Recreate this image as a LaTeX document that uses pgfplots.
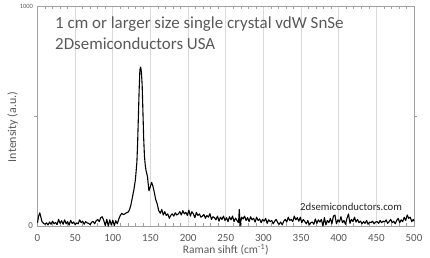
\documentclass[border=0pt]{standalone}
\usepackage{pgfplots}
\pgfplotsset{compat=1.18}
\usepackage{fontspec}
\setmainfont{Carlito}
\definecolor{txtgray}{HTML}{595959}
\definecolor{boxgray}{HTML}{A0A0A0}
\definecolor{gridgray}{HTML}{D9D9D9}
\begin{document}
\begin{tikzpicture}
\path[use as bounding box] (0,0) rectangle (430bp,258bp);
\begin{axis}[
  at={(37.5bp,32bp)}, anchor=south west,
  width=376.5bp, height=220bp, scale only axis,
  xmin=0, xmax=500, ymin=0, ymax=1000,
  xtick={0,50,...,500},
  minor x tick num=4,
  xmajorgrids, major grid style={gridgray, line width=0.8pt},
  ytick={0,1000},
  yticklabels={{\fontsize{9}{9}\selectfont 0},{\fontsize{6.5}{6.5}\selectfont 1000}},
  extra y ticks={500}, extra y tick labels={},
  extra y tick style={tick align=outside, major tick length=3bp},
  axis line style={boxgray, line width=0.8pt},
  tick style={boxgray, line width=0.6pt},
  tick align=inside,
  major tick length=0pt, minor tick length=3bp,
  /pgf/number format/assume math mode=true,
  /pgf/number format/1000 sep={},
  tick label style={txtgray},
  xticklabel style={font=\fontsize{11}{11}\selectfont, yshift=-5bp},
  yticklabel style={xshift=-1bp},
  xlabel={Raman sihft (cm\textsuperscript{-1})},
  ylabel={Intensity (a.u.)},
  xlabel style={font=\fontsize{11.5}{11.5}\selectfont, txtgray, at={(axis description cs:0.5,-0.107)}, anchor=center},
  ylabel style={font=\fontsize{12}{12}\selectfont, txtgray, at={(axis description cs:-0.066,0.45)}, anchor=center},
  clip=false,
]
\addplot[black, line width=1.1pt, line join=round] coordinates {
(0,15)(1.5,45)(3,60)(4.5,40)(6,20)(8,12)(10,8)(12,14)(14,5)(16,18)(18,8)(20,22)(22,10)(24,16)(26,6)(28,30)(30,12)(32,24)(34,8)(36,28)(38,10)(40,20)(42,4)(44,26)(46,12)(48,18)(50,6)(52,14)(54,10)(56,28)(58,15)(60,22)(62,8)(64,20)(66,14)(68,12)(70,6)(72,18)(74,20)(76,10)(78,24)(80,30)(82,20)(84,38)(86,42)(88,25)(90,2)(92,30)(94,0)(96,28)(98,4)(100,26)(102,2)(104,24)(106,10)(108,32)(110,48)(112,58)(114,52)(116,55)(118,60)(120,62)(122,72)(124,95)(126,130)(128,165)(130,210)(132,290)(133,380)(134,500)(135,620)(136,710)(137,722)(138,700)(139,640)(140,520)(141,400)(142,320)(143,280)(144,255)(146,225)(148,160)(150,180)(151.5,198)(153,185)(155,155)(157,120)(159,100)(161,70)(163,58)(165,75)(167,50)(169,65)(171,48)(173,55)(175,35)(177,48)(179,55)(181,45)(183,60)(185,50)(187,55)(189,65)(191,50)(193,70)(195,55)(197,62)(199,48)(201,72)(203,45)(205,65)(207,55)(209,38)(211,62)(213,48)(215,55)(217,40)(219,45)(221,52)(223,35)(225,48)(227,40)(229,56)(231,30)(233,42)(235,38)(237,28)(239,45)(241,22)(243,40)(245,30)(247,45)(249,25)(251,38)(253,20)(255,42)(257,28)(259,45)(261,20)(263,36)(265,25)(267,15)(268,75)(269,0)(271,40)(273,32)(275,45)(277,25)(279,38)(281,20)(283,42)(285,28)(287,35)(289,18)(291,40)(293,25)(295,32)(297,15)(299,30)(301,22)(303,35)(305,12)(307,28)(309,20)(311,25)(313,10)(315,22)(317,30)(319,15)(321,8)(323,18)(325,5)(327,22)(329,30)(331,18)(333,40)(335,25)(337,30)(339,20)(341,45)(343,28)(345,38)(347,22)(349,40)(351,15)(353,30)(355,20)(357,10)(359,25)(361,5)(363,15)(365,18)(367,8)(369,32)(371,12)(373,28)(375,18)(377,30)(379,0)(381,38)(383,5)(385,25)(387,15)(389,35)(391,10)(393,45)(395,50)(397,10)(399,28)(401,18)(403,42)(405,15)(407,25)(409,8)(411,35)(413,55)(415,12)(417,30)(419,20)(421,40)(423,18)(425,30)(427,15)(429,22)(431,10)(433,20)(435,12)(437,25)(439,8)(441,18)(443,15)(445,22)(447,10)(449,18)(451,20)(453,12)(455,25)(457,15)(459,22)(461,18)(463,28)(465,12)(467,20)(469,30)(471,15)(473,22)(475,10)(477,25)(479,35)(481,15)(483,28)(485,20)(487,40)(489,25)(491,50)(493,35)(495,40)(497,20)(499,30)(500,22)
};
\node[anchor=base west, inner sep=0pt, text=txtgray, font=\fontsize{17}{17}\selectfont]
  at (axis description cs:0.0465,0.8986) {1 cm or larger size single crystal vdW SnSe};
\node[anchor=base west, inner sep=0pt, text=txtgray, font=\fontsize{17}{17}\selectfont]
  at (axis description cs:0.0465,0.80) {2Dsemiconductors USA};
\node[anchor=center, inner sep=0pt, text=black!85, font=\fontsize{10.8}{10.8}\selectfont]
  at (axis description cs:0.833,0.086) {2dsemiconductors.com};
\end{axis}
\end{tikzpicture}
\end{document}
